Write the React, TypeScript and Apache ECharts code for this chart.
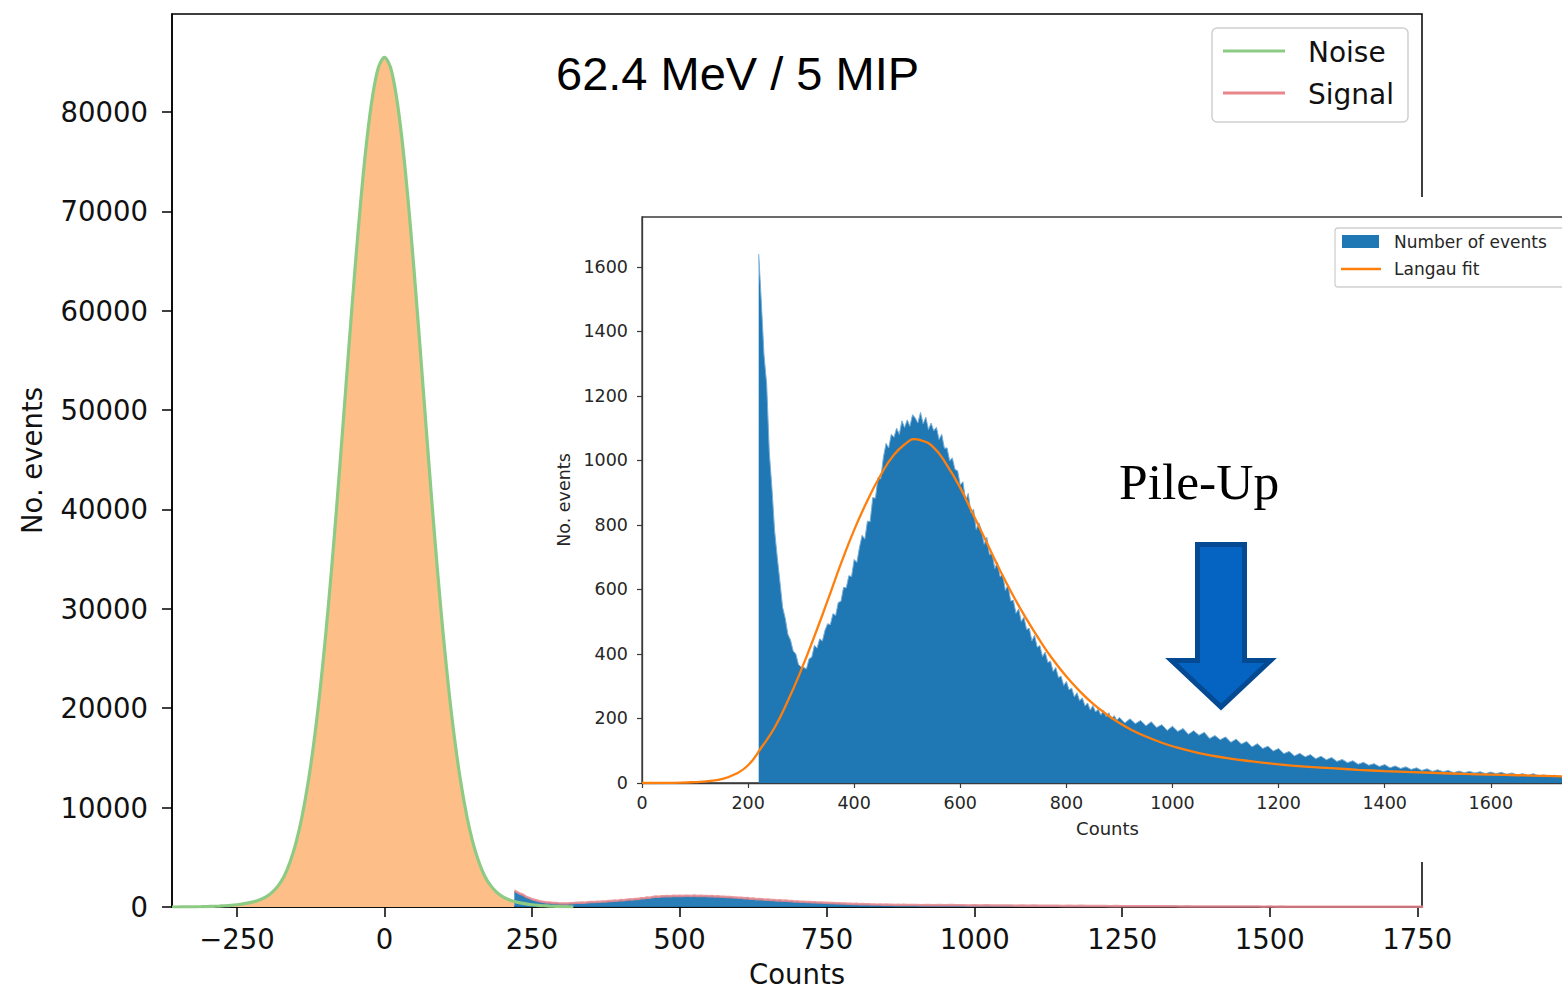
import React, { useEffect, useRef } from 'react';
import * as echarts from 'echarts';

// ---------- data ----------
// Noise histogram, bins every 10 counts starting at -360
const noiseStart = -360;
const noiseStep = 10;
const noiseCounts = [
  0, 2, 5, 10, 18, 30, 45, 65, 90, 125, 170, 230, 310, 420, 560, 760, 1050, 1500, 2150, 3100,
  4530, 6460, 9010, 12290, 16370, 21320, 27130, 33740, 41010, 48720, 56560, 64170, 71150, 77110, 81660, 84530,
  85500,
  84530, 81660, 77110, 71150, 64170, 56560, 48720, 41010, 33740, 27130, 21320, 16370, 12290, 9010, 6460,
  4530, 3100, 2150, 1500, 1050, 760, 560, 420, 310, 230, 170, 125, 90, 65, 45, 30, 18,
];
const noiseFillEnd = 220;

// Signal histogram (same data in both panels): fine bins of 5 from 220, coarse bins of 10 from 900
const signalFineStart = 220;
const signalFineStep = 5;
const signalFine = [
  1640, 1490, 1327, 1237, 1024, 913, 782, 700, 624, 545, 511, 461, 443, 409, 400, 367, 360,
  358, 354, 385, 390, 427, 418, 447, 440, 474, 494, 491, 525, 519, 560, 563, 607, 605, 643, 640,
  693, 684, 731, 768, 756, 812, 810, 885, 883, 948, 943, 1009, 1053,
  1039, 1081, 1072, 1100, 1081, 1123, 1102, 1126, 1106, 1142, 1132, 1116, 1149, 1114, 1134, 1096,
  1116, 1092, 1103, 1065, 1081, 1038, 1039, 999, 1008, 972, 968, 924,
  934, 875, 898, 839, 849, 786, 807, 783, 740, 762, 708, 713, 665, 684, 640, 646, 597, 614, 564,
  567, 526, 540, 501, 514, 476, 480, 441, 458, 421, 426,
  392, 406, 374, 378, 346, 358, 327, 331, 302, 315, 289, 294, 267, 280, 255, 264, 239, 248, 226,
  240, 220, 229, 211, 225, 206, 218, 198, 209, 195,
];
const signalCoarseStart = 900;
const signalCoarseStep = 10;
const signalCoarse = [
  203, 186, 199, 184, 194, 177, 190, 172, 181, 163, 176, 160, 169, 151, 162, 148, 157, 138, 147, 134,
  143, 126, 136, 121, 129, 112, 122, 107, 114, 99, 107, 91, 98, 84, 92, 81, 88, 75, 83, 72,
  79, 67, 73, 63, 69, 58, 64, 55, 60, 51, 57, 47, 53, 45, 50, 42, 47, 39, 44, 36,
  41, 35, 39, 32, 37, 32, 36, 31, 35, 29, 34, 29, 33, 27, 31, 25, 29, 23, 29, 22,
  25, 21, 24, 20, 23, 20,
];

// Langau fit curve
const langauX = [
  0, 25, 50, 75, 100, 125, 150, 175, 200, 225, 250, 275, 300, 325, 350, 375, 400, 425, 450, 475,
  500, 512, 525, 550, 575, 600, 625, 650, 675, 700, 725, 750, 775, 800, 825, 850, 875, 900, 925, 950,
  975, 1000, 1050, 1100, 1150, 1200, 1250, 1300, 1350, 1400, 1450, 1500, 1550, 1600, 1650, 1700, 1750,
];
const langauY = [
  0, 0, 0.5, 1, 3, 6, 12, 27, 55, 110, 172, 255, 350, 455, 566, 680, 785, 876, 955, 1018,
  1056, 1066, 1063, 1040, 985, 915, 830, 745, 659, 580, 508, 442, 382, 330, 285, 246, 214, 186, 163, 144,
  128, 114, 93, 78, 67, 58, 51, 46, 41, 37, 34, 31, 28, 26, 24, 22, 20,
];

// Tick values
const mainXTicks = [-250, 0, 250, 500, 750, 1000, 1250, 1500, 1750];
const mainYTicks = [0, 10000, 20000, 30000, 40000, 50000, 60000, 70000, 80000];
const insetXTicks = [0, 200, 400, 600, 800, 1000, 1200, 1400, 1600];
const insetYTicks = [0, 200, 400, 600, 800, 1000, 1200, 1400, 1600];

// ---------- derived series data ----------
const noiseData = noiseCounts.map((c, i) => [noiseStart + noiseStep * i, c]);
const noiseFill = noiseData.filter(([x]) => x <= noiseFillEnd);
const lastCoarse = signalCoarse[signalCoarse.length - 1];
const signalData = [
  ...signalFine.map((c, i) => [signalFineStart + signalFineStep * i, c]),
  ...signalCoarse.map((c, i) => [signalCoarseStart + signalCoarseStep * i, c]),
  [signalCoarseStart + signalCoarseStep * signalCoarse.length, lastCoarse],
];
const langauData = langauX.map((x, i) => [x, langauY[i]]);

const DV = 'DejaVu Sans';
const minus = (v: number) => (v < 0 ? '\u2212' + Math.abs(v) : String(v));
const plain = (v: number) => String(v);

const C_ORANGE_FILL = '#fdbf87';
const C_GREEN = '#8dcb85';
const C_PINK = '#e8868c';
const C_BLUE = '#1f77b4';
const C_FIT = '#ff7f0e';

function mainOption(): any {
  return {
    animation: false,
    grid: {
      left: 172, top: 14, width: 1250, height: 893, outerBoundsMode: 'none',
      show: true, borderColor: '#000', borderWidth: 1.5, backgroundColor: 'transparent',
    },
    xAxis: {
      type: 'value', min: -360, max: 1758,
      axisLine: { show: true, onZero: false, lineStyle: { color: '#000', width: 1.5 } },
      axisTick: { show: true, customValues: mainXTicks, length: 10, lineStyle: { color: '#000', width: 1.5 } },
      axisLabel: { customValues: mainXTicks, fontSize: 27.5, fontFamily: DV, color: '#111', margin: 18, formatter: minus },
      splitLine: { show: false },
      name: 'Counts', nameLocation: 'middle', nameGap: 53,
      nameTextStyle: { fontSize: 27.5, fontFamily: DV, color: '#111' },
    },
    yAxis: {
      type: 'value', min: 0, max: 89860,
      axisLine: { show: true, onZero: false, lineStyle: { color: '#000', width: 1.5 } },
      axisTick: { show: true, customValues: mainYTicks, length: 10, lineStyle: { color: '#000', width: 1.5 } },
      axisLabel: { customValues: mainYTicks, fontSize: 27.5, fontFamily: DV, color: '#111', margin: 24, formatter: plain },
      splitLine: { show: false },
      name: 'No. events', nameLocation: 'middle', nameGap: 126,
      nameTextStyle: { fontSize: 27.5, fontFamily: DV, color: '#111' },
    },
    series: [
      {
        name: 'NoiseFill', type: 'line', data: noiseFill, smooth: 0.3, showSymbol: false, silent: true,
        lineStyle: { width: 0 }, areaStyle: { color: C_ORANGE_FILL, opacity: 1 }, z: 1,
      },
      {
        name: 'SignalFill', type: 'line', data: signalData, showSymbol: false, silent: true,
        lineStyle: { width: 0 }, areaStyle: { color: C_BLUE, opacity: 0.95 }, z: 2,
      },
      {
        name: 'Noise', type: 'line', data: noiseData, smooth: 0.3, showSymbol: false, silent: true,
        lineStyle: { width: 3.2, color: C_GREEN }, z: 3,
      },
      {
        name: 'Signal', type: 'line', data: signalData, showSymbol: false, silent: true,
        lineStyle: { width: 2.5, color: C_PINK, opacity: 0.85 }, z: 4,
      },
    ],
    graphic: [
      {
        type: 'text', x: 556, y: 73, z: 100,
        style: { text: '62.4 MeV / 5 MIP', fontSize: 47, fontFamily: 'Liberation Sans', fill: '#000', align: 'left', verticalAlign: 'middle' },
      },
      {
        type: 'rect', z: 100, shape: { x: 1212, y: 28, width: 196, height: 94, r: 5 },
        style: { fill: 'rgba(255,255,255,0.85)', stroke: '#cfcfcf', lineWidth: 1.5 },
      },
      { type: 'line', z: 101, shape: { x1: 1223, y1: 51, x2: 1285, y2: 51 }, style: { stroke: C_GREEN, lineWidth: 3 } },
      { type: 'line', z: 101, shape: { x1: 1223, y1: 93, x2: 1285, y2: 93 }, style: { stroke: C_PINK, lineWidth: 3 } },
      {
        type: 'text', x: 1308, y: 52, z: 101,
        style: { text: 'Noise', fontSize: 28, fontFamily: DV, fill: '#111', align: 'left', verticalAlign: 'middle' },
      },
      {
        type: 'text', x: 1308, y: 94, z: 101,
        style: { text: 'Signal', fontSize: 28, fontFamily: DV, fill: '#111', align: 'left', verticalAlign: 'middle' },
      },
    ],
  };
}

function insetOption(): any {
  const ox = 540;
  const oy = 197;
  const arrowPts = [
    [1197.5, 544.5], [1244.5, 544.5], [1244.5, 660.5], [1270.5, 660.5],
    [1221, 707], [1171.5, 660.5], [1197.5, 660.5],
  ].map(([x, y]) => [x - ox, y - oy]);
  return {
    animation: false,
    grid: {
      left: 102, top: 20, width: 931, height: 566, outerBoundsMode: 'none',
      show: true, borderColor: '#3a3a3a', borderWidth: 1.3, backgroundColor: '#fff',
    },
    xAxis: {
      type: 'value', min: 0, max: 1755,
      axisLine: { show: true, onZero: false, lineStyle: { color: '#3a3a3a', width: 1.3 } },
      axisTick: { show: true, customValues: insetXTicks, length: 5, lineStyle: { color: '#3a3a3a', width: 1.2 } },
      axisLabel: { customValues: insetXTicks, fontSize: 17.5, fontFamily: DV, color: '#262626', margin: 11, formatter: plain },
      splitLine: { show: false },
      name: 'Counts', nameLocation: 'middle', nameGap: 36,
      nameTextStyle: { fontSize: 18, fontFamily: DV, color: '#262626' },
    },
    yAxis: {
      type: 'value', min: 0, max: 1755,
      axisLine: { show: true, onZero: false, lineStyle: { color: '#3a3a3a', width: 1.3 } },
      axisTick: { show: true, customValues: insetYTicks, length: 5, lineStyle: { color: '#3a3a3a', width: 1.2 } },
      axisLabel: { customValues: insetYTicks, fontSize: 17.5, fontFamily: DV, color: '#262626', margin: 14, formatter: plain },
      splitLine: { show: false },
      name: 'No. events', nameLocation: 'middle', nameGap: 62,
      nameTextStyle: { fontSize: 17.5, fontFamily: DV, color: '#262626' },
    },
    series: [
      {
        name: 'Number of events', type: 'line', data: signalData, showSymbol: false, silent: true,
        lineStyle: { width: 1, color: '#78aed6' }, areaStyle: { color: C_BLUE, opacity: 1 }, z: 2,
      },
      {
        name: 'Langau fit', type: 'line', data: langauData, smooth: 0.5,
        showSymbol: false, silent: true, lineStyle: { width: 2.3, color: C_FIT }, z: 3,
      },
    ],
    graphic: [
      {
        type: 'rect', z: 100, shape: { x: 1335 - ox, y: 228 - oy, width: 236, height: 59, r: 3 },
        style: { fill: 'rgba(255,255,255,0.85)', stroke: '#d0d0d0', lineWidth: 1.3 },
      },
      { type: 'rect', z: 101, shape: { x: 1342 - ox, y: 235 - oy, width: 37, height: 13 }, style: { fill: C_BLUE } },
      { type: 'line', z: 101, shape: { x1: 1341 - ox, y1: 269 - oy, x2: 1381 - ox, y2: 269 - oy }, style: { stroke: C_FIT, lineWidth: 2.3 } },
      {
        type: 'text', x: 1394 - ox, y: 242 - oy, z: 101,
        style: { text: 'Number of events', fontSize: 17, fontFamily: DV, fill: '#262626', align: 'left', verticalAlign: 'middle' },
      },
      {
        type: 'text', x: 1394 - ox, y: 269 - oy, z: 101,
        style: { text: 'Langau fit', fontSize: 17, fontFamily: DV, fill: '#262626', align: 'left', verticalAlign: 'middle' },
      },
      {
        type: 'text', x: 1119 - ox, y: 481 - oy, z: 101,
        style: { text: 'Pile-Up', fontSize: 51.5, fontFamily: 'Liberation Serif', fill: '#000', align: 'left', verticalAlign: 'middle' },
      },
      {
        type: 'polygon', z: 101, shape: { points: arrowPts },
        style: { fill: '#0563c1', stroke: '#034a92', lineWidth: 5, lineJoin: 'miter' },
      },
    ],
  };
}

export default function App() {
  const mainRef = useRef<HTMLDivElement>(null);
  const insetRef = useRef<HTMLDivElement>(null);
  useEffect(() => {
    const m = echarts.init(mainRef.current!, null, { renderer: 'svg' });
    const i = echarts.init(insetRef.current!, null, { renderer: 'svg' });
    m.setOption(mainOption());
    i.setOption(insetOption());
    return () => {
      m.dispose();
      i.dispose();
    };
  }, []);
  return (
    <div style={{ position: 'absolute', left: 0, top: 0, width: 1562, height: 991, overflow: 'hidden', background: '#fff' }}>
      <div ref={mainRef} style={{ position: 'absolute', left: 0, top: 0, width: 1562, height: 991 }} />
      <div ref={insetRef} style={{ position: 'absolute', left: 540, top: 197, width: 1100, height: 665, background: '#fff' }} />
    </div>
  );
}
